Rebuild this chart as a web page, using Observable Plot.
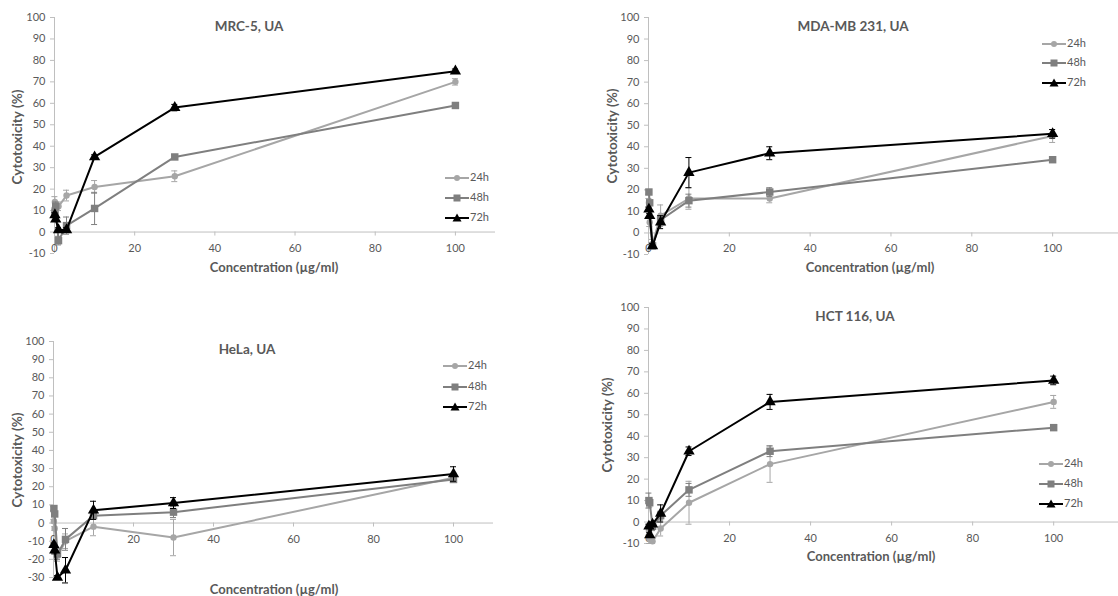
<!DOCTYPE html>
<html>
<head>
<meta charset="utf-8">
<script src="https://cdn.jsdelivr.net/npm/d3@7"></script>
<script src="https://cdn.jsdelivr.net/npm/@observablehq/plot@0.6"></script>
<style>
  html, body { margin: 0; padding: 0; background: #fff; }
  #root { position: relative; width: 1118px; height: 596px; overflow: hidden; background: #fff; font-family: Lato, "Open Sans", sans-serif; }
  .pnl { position: absolute; }
  .title { position: absolute; width: 240px; text-align: center; font-weight: bold; font-size: 13.5px; color: #595959; line-height: 20px; }
  .xt { position: absolute; width: 240px; text-align: center; font-weight: bold; font-size: 13px; color: #595959; line-height: 16px; }
  .yt { position: absolute; white-space: nowrap; font-weight: bold; font-size: 13.5px; color: #595959; transform: translate(-50%, -50%) rotate(-90deg); line-height: 16px; }
  .leg { position: absolute; font-size: 11px; color: #595959; line-height: 14px; white-space: nowrap; }
  .leg svg { vertical-align: middle; }
</style>
</head>
<body>
<div id="root"></div>
<script>
// ---------- data ----------
const concentrations = [0.1, 0.3, 1, 3, 10, 30, 100];
const seriesNames = ["24h", "48h", "72h"];
const xTicks = [0, 20, 40, 60, 80, 100];
const yTicksA = [-10, 0, 10, 20, 30, 40, 50, 60, 70, 80, 90, 100];
const yTicksHeLa = [-30, -20, -10, 0, 10, 20, 30, 40, 50, 60, 70, 80, 90, 100];
const panelTitles = ["MRC-5, UA", "MDA-MB 231, UA", "HeLa, UA", "HCT 116, UA"];
const xTitle = "Concentration (µg/ml)";
const yTitle = "Cytotoxicity (%)";

// MRC-5
const mrc5_24h = [14, 9, 12, 17, 21, 26, 70];
const mrc5_24h_err = [2.5, 2, 2, 2.5, 3, 2.5, 1.5];
const mrc5_48h = [9, 12, -4, 3, 11, 35, 59];
const mrc5_48h_err = [2, 2, 2, 4, 7.5, 1, 0.5];
const mrc5_72h = [8, 6, 1, 1, 35, 58, 75];
const mrc5_72h_err = [1, 1, 1, 1, 1, 1.5, 1];
// MDA-MB 231
const mda_24h = [14, 5, -5, 8, 16, 16, 45];
const mda_24h_err = [2, 2, 2, 5, 5, 2, 3];
const mda_48h = [19, 14, -6, 6, 15, 19, 34];
const mda_48h_err = [1, 1, 1, 2, 3, 2, 1];
const mda_72h = [11, 8, -6, 5, 28, 37, 46];
const mda_72h_err = [1, 1, 1, 3, 7, 3, 2];
// HeLa
const hela_24h = [1, -3, -18, -10, -2, -8, 25];
const hela_24h_err = [1, 1, 3, 4, 5, 10, 1];
const hela_48h = [8, 5, -17, -9, 4, 6, 24];
const hela_48h_err = [1, 1, 3, 6, 2, 3, 1];
const hela_72h = [-12, -15, -30, -26, 7, 11, 27];
const hela_72h_err = [1, 2, 1, 7, 5, 3, 4];
// HCT 116
const hct_24h = [-4, -8, -9, -3, 9, 27, 56];
const hct_24h_err = [2, 2, 1, 3.5, 10, 8.5, 3];
const hct_48h = [10, 9, -2, 3, 15, 33, 44];
const hct_48h_err = [3.5, 2, 2, 2, 3, 2.5, 0.5];
const hct_72h = [-2, -6, -1, 4, 33, 56, 66];
const hct_72h_err = [1, 1, 1, 4, 2, 3.5, 2];

// ---------- styles ----------
const seriesColor = {"24h": "#a6a6a6", "48h": "#7f7f7f", "72h": "#000000"};
const seriesSymbol = {"24h": "circle", "48h": "square", "72h": "triangle"};
const seriesR = {"24h": 3.2, "48h": 4.2, "72h": 4.2};

function rows(vals, errs, name) {
  return concentrations.map((c, i) => ({x: c, y: vals[i], e: errs[i], s: name}));
}

const panels = [
  {left: 0, top: 0, width: 560, height: 290, mt: 17, mb: 37, ml: 54, mr: 65, xMax: 110, yDomain: [-10, 100], yTicks: yTicksA,
   data: [rows(mrc5_24h, mrc5_24h_err, "24h"), rows(mrc5_48h, mrc5_48h_err, "48h"), rows(mrc5_72h, mrc5_72h_err, "72h")],
   title: [249, 26], xt: [274, 267], yt: [17, 137], leg: [445, [177, 197, 217]]},
  {left: 560, top: 0, width: 558, height: 290, mt: 17, mb: 36, ml: 88, mr: 0, xMax: 116.3, yDomain: [-10, 100], yTicks: yTicksA,
   data: [rows(mda_24h, mda_24h_err, "24h"), rows(mda_48h, mda_48h_err, "48h"), rows(mda_72h, mda_72h_err, "72h")],
   title: [853, 26], xt: [870, 267], yt: [612, 136], leg: [1042, [43, 62, 82]]},
  {left: 0, top: 290, width: 560, height: 306, mt: 51, mb: 19, ml: 53, mr: 67, xMax: 110, yDomain: [-30, 100], yTicks: yTicksHeLa,
   data: [rows(hela_24h, hela_24h_err, "24h"), rows(hela_48h, hela_48h_err, "48h"), rows(hela_72h, hela_72h_err, "72h")],
   title: [247, 349], xt: [274, 589], yt: [17, 460], leg: [443, [365, 386, 406]]},
  {left: 560, top: 290, width: 558, height: 306, mt: 17, mb: 53, ml: 88, mr: 0, xMax: 116, yDomain: [-10, 100], yTicks: yTicksA,
   data: [rows(hct_24h, hct_24h_err, "24h"), rows(hct_48h, hct_48h_err, "48h"), rows(hct_72h, hct_72h_err, "72h")],
   title: [855, 316], xt: [871, 556], yt: [607, 425], leg: [1039, [463, 483, 503]]}
];

const root = document.getElementById("root");

panels.forEach((p, idx) => {
  const marks = [
    Plot.ruleX([0], {stroke: "#bfbfbf", strokeWidth: 1}),
    Plot.ruleY([0], {stroke: "#bfbfbf", strokeWidth: 1}),
    Plot.ruleX(xTicks, {x: d => d, y1: 0, y2: 0, insetBottom: -4, stroke: "#bfbfbf"}),
    Plot.text(xTicks, {x: d => d, y: 0, dy: 16, text: d => String(d), fill: "#595959", fontSize: 11}),
    Plot.axisY({ticks: p.yTicks, tickSize: 4, tickPadding: 5, stroke: "#bfbfbf", fill: "#595959", fontSize: 11, label: null, tickFormat: d => String(d)})
  ];
  p.data.forEach(rs => {
    const name = rs[0].s;
    const col = seriesColor[name];
    marks.push(
      Plot.ruleX(rs, {x: "x", y1: d => d.y - d.e, y2: d => d.y + d.e, stroke: col, strokeWidth: 1}),
      Plot.ruleY(rs, {y: d => d.y + d.e, x1: "x", x2: "x", insetLeft: -3, insetRight: -3, stroke: col, strokeWidth: 1}),
      Plot.ruleY(rs, {y: d => d.y - d.e, x1: "x", x2: "x", insetLeft: -3, insetRight: -3, stroke: col, strokeWidth: 1}),
      Plot.line(rs, {x: "x", y: "y", stroke: col, strokeWidth: 2}),
      Plot.dot(rs, {x: "x", y: "y", symbol: seriesSymbol[name], r: seriesR[name], fill: col, stroke: "none"})
    );
  });
  const svg = Plot.plot({
    width: p.width, height: p.height,
    marginTop: p.mt, marginBottom: p.mb, marginLeft: p.ml, marginRight: p.mr,
    x: {domain: [0, p.xMax], axis: null},
    y: {domain: p.yDomain, axis: null},
    style: {fontFamily: "Lato, 'Open Sans', sans-serif", fontSize: "11px", background: "transparent", color: "#595959", overflow: "visible"},
    marks
  });
  const wrap = document.createElement("div");
  wrap.className = "pnl";
  wrap.style.left = p.left + "px";
  wrap.style.top = p.top + "px";
  wrap.appendChild(svg);
  root.appendChild(wrap);

  const t = document.createElement("div");
  t.className = "title";
  t.textContent = panelTitles[idx];
  t.style.left = (p.title[0] - 120) + "px";
  t.style.top = (p.title[1] - 10) + "px";
  root.appendChild(t);

  const xt = document.createElement("div");
  xt.className = "xt";
  xt.textContent = xTitle;
  xt.style.left = (p.xt[0] - 120) + "px";
  xt.style.top = (p.xt[1] - 8) + "px";
  root.appendChild(xt);

  const yt = document.createElement("div");
  yt.className = "yt";
  yt.textContent = yTitle;
  yt.style.left = p.yt[0] + "px";
  yt.style.top = p.yt[1] + "px";
  root.appendChild(yt);

  seriesNames.forEach((name, k) => {
    const col = seriesColor[name];
    const lg = document.createElement("div");
    lg.className = "leg";
    lg.style.left = p.leg[0] + "px";
    lg.style.top = (p.leg[1][k] - 7) + "px";
    const sym = name === "24h" ? `<circle cx="12" cy="7" r="3" fill="${col}"/>`
      : name === "48h" ? `<rect x="8.5" y="3.5" width="7" height="7" fill="${col}"/>`
      : `<path d="M12,2.5 L16.5,10.5 L7.5,10.5 Z" fill="${col}"/>`;
    lg.innerHTML = `<svg width="24" height="14"><line x1="0" y1="7" x2="24" y2="7" stroke="${col}" stroke-width="2"/>${sym}</svg><span style="margin-left:1px">${name}</span>`;
    root.appendChild(lg);
  });
});
</script>
</body>
</html>
